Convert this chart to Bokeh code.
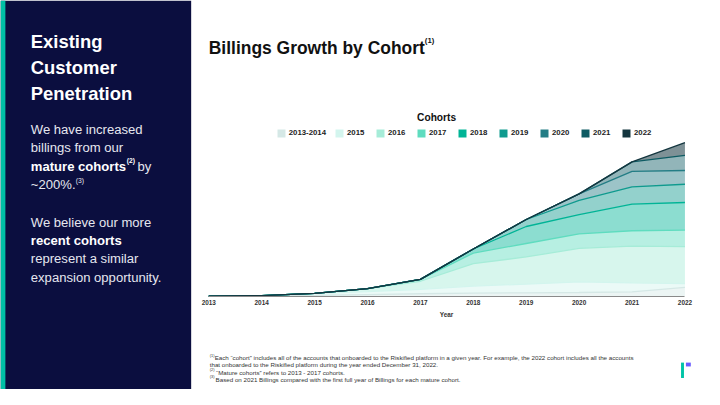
import numpy as np
from bokeh.plotting import figure
from bokeh.models import Range1d, Label, Legend, LegendItem, BoxAnnotation, FixedTicker
from bokeh.embed import file_html
from bokeh.resources import INLINE

# ---------------- data ----------------
years = [2013, 2014, 2015, 2016, 2017, 2018, 2019, 2020, 2021, 2022]
cohorts = ["2013-2014", "2015", "2016", "2017", "2018", "2019", "2020", "2021", "2022"]
c2013_2014 = [0.3, 0.7, 1.0, 1.7, 2.7, 3.3, 3.7, 4.0, 4.7, 9.3]
c2015 = [0, 0, 2.0, 3.3, 4.6, 7.4, 9.0, 11.0, 9.3, 4.0]
c2016 = [0, 0, 0, 3.0, 8.4, 23.3, 28.3, 35.0, 38.3, 38.4]
c2017 = [0, 0, 0, 0, 2.0, 11.0, 14.0, 15.0, 16.0, 17.3]
c2018 = [0, 0, 0, 0, 0, 4.3, 17.7, 20.0, 27.7, 28.7]
c2019 = [0, 0, 0, 0, 0, 0, 7.3, 15.0, 18.0, 19.0]
c2020 = [0, 0, 0, 0, 0, 0, 0, 6.7, 16.0, 14.3]
c2021 = [0, 0, 0, 0, 0, 0, 0, 0, 10.0, 15.7]
c2022 = [0, 0, 0, 0, 0, 0, 0, 0, 0, 13.3]
series = [c2013_2014, c2015, c2016, c2017, c2018, c2019, c2020, c2021, c2022]

colors = ["#d5e8e6", "#d3f5ee", "#a6ecd8", "#5fdcbf", "#00b496",
          "#0f9a8e", "#237d85", "#0e5b63", "#14363f"]
alphas = [0.45, 0.45, 0.45, 0.45, 0.45, 0.45, 0.45, 0.45, 0.55]

NAVY = "#0b0e3f"
FONT = "Liberation Sans"

# ---------------- layout geometry (slide is 720x405, page area 704x389) ----------------
W, H = 704, 389
SX, SY = W / 720.0, H / 405.0
FS = 0.97
X2013, X2022 = 213.0, 700.0          # slide x of first/last year
BASE = 308.0                          # slide y of the baseline
ppy = (X2022 - X2013) / (years[-1] - years[0])
x_start = years[0] - X2013 / ppy
x_end = years[-1] + (720.0 - X2022) / ppy

p = figure(width=W, height=H, x_range=Range1d(x_start, x_end),
           y_range=Range1d(-(405.0 - BASE), BASE),
           y_axis_type=None, toolbar_location=None, output_backend="svg",
           min_border=0, outline_line_color=None,
           background_fill_color="white", border_fill_color="white")
p.xgrid.grid_line_color = None


def box(x0, x1, y0=None, y1=None, color="#000000"):
    kw = dict(left=x0 * SX, right=x1 * SX, left_units="screen", right_units="screen",
              fill_color=color, fill_alpha=1, line_color=None)
    if y0 is not None:
        kw.update(top=H - y0 * SY, bottom=H - y1 * SY, top_units="screen", bottom_units="screen")
    p.add_layout(BoxAnnotation(**kw))


def txt(x, y, t, size, bold=False, color="#111111", align="left", baseline="alphabetic"):
    p.add_layout(Label(x=x * SX, y=H - y * SY, x_units="screen", y_units="screen", text=t,
                       text_font=FONT, text_font_size="%.2fpx" % (size * FS),
                       text_font_style="bold" if bold else "normal",
                       text_color=color, text_align=align, text_baseline=baseline))


# ---------------- left panel ----------------
box(0, 195, color=NAVY)
box(0, 5, color="#00bfa5")

for t, y in [("Existing", 43), ("Customer", 70), ("Penetration", 97)]:
    txt(31, y, t, 19, True, "white")

BODY = "#e6e7ef"
txt(31, 134, "We have increased", 13.5, False, BODY)
txt(31, 153, "billings from our", 13.5, False, BODY)
txt(31, 173, "mature cohorts", 13.5, True, "white")
txt(129, 167, "(2)", 7, True, "white")
txt(140, 173, "by", 13.5, False, BODY)
txt(31, 192, "~200%.", 13.5, False, BODY)
txt(77, 187, "(3)", 7, False, BODY)
txt(31, 231, "We believe our more", 13.5, False, BODY)
txt(31, 250, "recent cohorts", 13.5, True, "white")
txt(31, 269, "represent a similar", 13.5, False, BODY)
txt(31, 288, "expansion opportunity.", 13.5, False, BODY)

# ---------------- chart ----------------
arr = np.array(series, dtype=float)
tops = np.cumsum(arr, axis=0)
bottoms = tops - arr

for i in range(len(series)):
    p.varea(x=years, y1=list(bottoms[i]), y2=list(tops[i]),
            fill_color=colors[i], fill_alpha=alphas[i])
for i in range(len(series)):
    p.line(x=years, y=list(tops[i]), line_color=colors[i], line_width=1.3)

ax = p.xaxis[0]
ax.fixed_location = 0
ax.bounds = (years[0], years[-1])
ax.ticker = FixedTicker(ticks=years)
ax.major_label_text_font = FONT
ax.major_label_text_font_size = "6.4px"
ax.major_label_text_font_style = "bold"
ax.major_label_text_color = "#333333"
ax.major_label_standoff = 4
ax.major_tick_line_color = None
ax.minor_tick_line_color = None
ax.major_tick_out = 0
ax.major_tick_in = 0
ax.axis_line_color = "#8a8a8a"
ax.axis_label = "Year"
ax.axis_label_text_font = FONT
ax.axis_label_text_font_size = "6.4px"
ax.axis_label_text_font_style = "bold"
ax.axis_label_text_color = "#333333"
ax.axis_label_standoff = 2

# legend: swatch renderers are zero-height areas (invisible in the plot) in opaque colours
items = []
for i, (lab, col) in enumerate(zip(cohorts, colors)):
    r = p.varea(x=years[:1], y1=list(bottoms[i][:1]), y2=list(bottoms[i][:1]),
                fill_color=col, fill_alpha=1)
    items.append(LegendItem(label=lab, renderers=[r]))
legend = Legend(items=items, orientation="horizontal",
                location=(282 * SX, H - 143.5 * SY),
                glyph_width=10, glyph_height=10, label_height=10, label_standoff=3,
                spacing=8, padding=0, margin=0, border_line_color=None,
                background_fill_alpha=0, label_text_font=FONT,
                label_text_font_size="7.8px", label_text_font_style="bold",
                label_text_color="#222222")
p.add_layout(legend)

txt(213, 49, "Billings Growth by Cohort", 18, True)
txt(434, 42, "(1)", 8, True)
txt(446, 122, "Cohorts", 10.5, True, "#111111", "center", "middle")

FN = "#333333"
FSZ = 6.4
txt(214, 369.3, "(1)", 4, False, FN)
txt(219, 371.7, "Each \u201ccohort\u201d includes all of the accounts that onboarded to the Riskified platform in a given year. For example, the 2022 cohort includes all the accounts", FSZ, False, FN)
txt(214, 379.3, "that onboarded to the Riskified platform during the year ended December 31, 2022.", FSZ, False, FN)
txt(214, 384.6, "(2)", 4, False, FN)
txt(220.5, 387, "\u201cMature cohorts\u201d refers to 2013 - 2017 cohorts.", FSZ, False, FN)
txt(214, 391.9, "(3)", 4, False, FN)
txt(220, 394.3, "Based on 2021 Billings compared with the first full year of Billings for each mature cohort.", FSZ, False, FN)

# logo
box(696, 699, 377, 393, "#00c4a7")
box(701, 706, 377, 381, "#6b5cff")

open("out.html", "w").write(file_html(p, INLINE))
